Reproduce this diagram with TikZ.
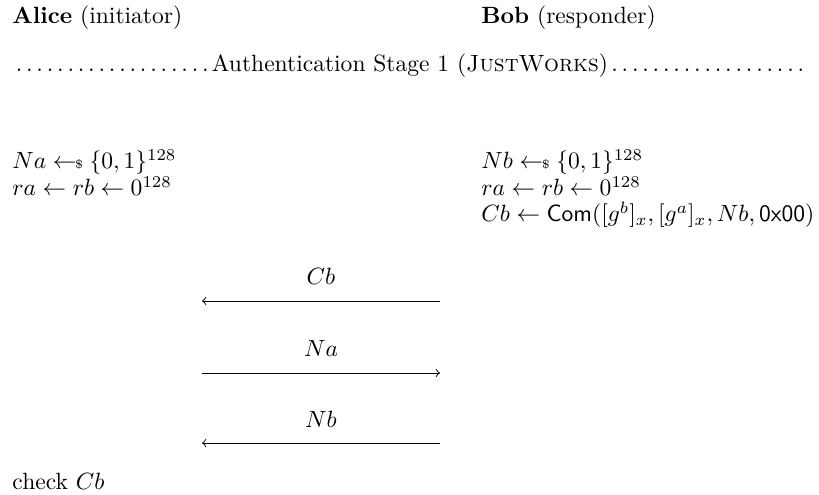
\documentclass[tikz,border=0pt]{standalone}
\usepackage{amsmath}
\usetikzlibrary{arrows}

\begin{document}
\begin{tikzpicture}[x=0.425pt, y=-0.425pt,
	party/.style={anchor=base west, inner sep=0pt},
	step label/.style={anchor=base west, inner sep=0pt},
	msg/.style={anchor=base, inner sep=0pt},
	stage/.style={anchor=base west, inner sep=0pt, text width=337.9pt},
	flow/.style={->, >=to, line width=0.4pt}]
	\newcommand{\smp}{\mathrel{\leftarrow\!\!\mbox{\tiny\$}}}
	\useasboundingbox (0,0) rectangle (819,495);
	%% Parties ------
	\node[party] (alice) at (12,24) {\textbf{Alice} (initiator)};
	\node[party] (bob) at (481,24) {\textbf{Bob} (responder)};
	\node[stage] (stage1) at (12,72) {\dotfill Authentication Stage 1 (\textsc{JustWorks})\dotfill};
	%% Alice ---------
	\node[step label] (na) at (12,169) {$Na \smp \{0,1\}^{128}$};
	\node[step label] (ra) at (12,196) {$ra \leftarrow rb \leftarrow 0^{128}$};
	%% Bob -----------
	\node[step label] (nb) at (481,169) {$Nb \smp \{0,1\}^{128}$};
	\node[step label] (rb) at (481,196) {$ra \leftarrow rb \leftarrow 0^{128}$};
	\node[step label] (cb) at (481,222) {$Cb \leftarrow \mathsf{Com}([g^b]_x, [g^a]_x, Nb, \mathsf{0x00})$};
	%% Messages ------
	\coordinate (m1a) at (202,301); \coordinate (m1b) at (440,301);
	\coordinate (m2a) at (202,373); \coordinate (m2b) at (440,373);
	\coordinate (m3a) at (202,443); \coordinate (m3b) at (440,443);
	\node[msg] (m1) at (321,285) {$Cb$};
	\node[msg] (m2) at (321,357) {$Na$};
	\node[msg] (m3) at (321,428) {$Nb$};
	\draw[flow] (m1b) -- (m1a);
	\draw[flow] (m2a) -- (m2b);
	\draw[flow] (m3b) -- (m3a);
	%% Check ---------
	\node[step label] (chk) at (12,490) {check~$Cb$};
\end{tikzpicture}
\end{document}
